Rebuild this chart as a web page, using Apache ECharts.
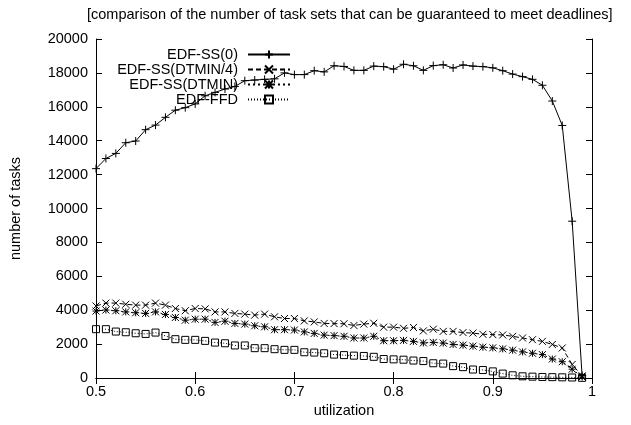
<!DOCTYPE html>
<html>
<head>
<meta charset="utf-8">
<title>Schedulable task sets vs utilization</title>
<script src="https://cdn.jsdelivr.net/npm/echarts@6/dist/echarts.min.js"></script>
<style>
  html, body { margin: 0; padding: 0; background: #fff; }
  #chart { width: 631px; height: 425px; }
</style>
</head>
<body>
<div id="chart"></div>
<script>
// Utilization levels sampled on the x axis
const utilization = [
  0.50, 0.51, 0.52, 0.53, 0.54, 0.55, 0.56, 0.57, 0.58, 0.59,
  0.60, 0.61, 0.62, 0.63, 0.64, 0.65, 0.66, 0.67, 0.68, 0.69,
  0.70, 0.71, 0.72, 0.73, 0.74, 0.75, 0.76, 0.77, 0.78, 0.79,
  0.80, 0.81, 0.82, 0.83, 0.84, 0.85, 0.86, 0.87, 0.88, 0.89,
  0.90, 0.91, 0.92, 0.93, 0.94, 0.95, 0.96, 0.97, 0.98, 0.99
];

// Number of task sets guaranteed to meet deadlines, per scheduler
const edfSS0 = [
  12350, 12950, 13250, 13880, 13980, 14650, 14920, 15380, 15800, 15950,
  16170, 16650, 16850, 17050, 17200, 17540, 17580, 17620, 17650, 18000,
  17900, 17900, 18130, 18060, 18420, 18380, 18150, 18150, 18400, 18370,
  18220, 18510, 18420, 18150, 18430, 18480, 18290, 18470, 18400, 18370,
  18300, 18130, 17930, 17780, 17620, 17270, 16340, 14900, 9250, 150
];
const edfSSDtmin4 = [
  4250, 4420, 4420, 4350, 4300, 4300, 4420, 4300, 4100, 3970,
  4100, 4080, 3900, 3900, 3810, 3770, 3710, 3770, 3610, 3510,
  3510, 3370, 3310, 3220, 3210, 3200, 3100, 3180, 3230, 3000,
  3000, 2930, 2980, 2780, 2880, 2750, 2750, 2680, 2650, 2580,
  2560, 2540, 2460, 2360, 2260, 2160, 1980, 1770, 800, 120
];
const edfSSDtmin = [
  3950, 4010, 3970, 3900, 3850, 3810, 3900, 3750, 3570, 3410,
  3470, 3470, 3280, 3350, 3220, 3180, 3080, 3020, 2850, 2850,
  2830, 2720, 2630, 2530, 2500, 2460, 2360, 2360, 2460, 2200,
  2200, 2220, 2160, 2070, 2100, 2060, 1980, 1940, 1880, 1820,
  1780, 1720, 1640, 1540, 1460, 1380, 1120, 960, 520, 60
];
const edfFFD = [
  2880, 2880, 2740, 2700, 2640, 2600, 2680, 2480, 2290, 2250,
  2250, 2190, 2090, 2050, 1920, 1920, 1760, 1760, 1700, 1660,
  1660, 1520, 1500, 1460, 1380, 1350, 1320, 1300, 1250, 1120,
  1100, 1080, 1030, 1000, 870, 850, 700, 640, 500, 470,
  390, 260, 160, 100, 80, 60, 50, 40, 30, 10
];

const seriesNames = ['EDF-SS(0)', 'EDF-SS(DTMIN/4)', 'EDF-SS(DTMIN)', 'EDF-FFD'];
const xTicks = { min: 0.5, max: 1, interval: 0.1 };
const yTicks = { min: 0, max: 20000, interval: 2000 };

const FONT = '"Liberation Sans", Arial, Helvetica, sans-serif';
const FS = 14.5;

// Stroke-only point glyphs
const SYM_PLUS = 'path://M0,5L10,5M5,0L5,10';
const SYM_CROSS = 'path://M0,0L10,10M10,0L0,10';
const SYM_STAR = 'path://M0,0L10,10M10,0L0,10M5,0L5,10M0,5L10,5';

const pairs = vals => utilization.map((u, i) => [u, vals[i]]);

function lineSeries(name, vals, symbol, size, dash) {
  return {
    name: name,
    type: 'line',
    data: pairs(vals),
    symbol: symbol,
    symbolSize: size,
    showAllSymbol: true,
    animation: false,
    silent: true,
    lineStyle: { color: '#000', width: 1, type: dash },
    itemStyle: { color: 'rgba(0,0,0,0)', borderColor: '#000', borderWidth: 1 },
    emphasis: { disabled: true }
  };
}

const legendRows = [52, 67, 82, 97];
const legends = seriesNames.map((n, i) => ({
  data: [n],
  orient: 'vertical',
  align: 'right',
  right: 340,
  top: legendRows[i] - 5,
  itemWidth: 42,
  itemHeight: 10,
  padding: 0,
  selectedMode: false,
  textStyle: { fontFamily: FONT, fontSize: FS, color: '#000', padding: [0, 5, 0, 0] }
}));

const axisCommon = {
  type: 'value',
  axisLine: { show: true, lineStyle: { color: '#000', width: 1 } },
  axisTick: { show: true, inside: true, length: 6, lineStyle: { color: '#000', width: 1 } },
  splitLine: { show: false }
};

const chart = echarts.init(document.getElementById('chart'), null, { renderer: 'canvas' });
chart.setOption({
  backgroundColor: '#fff',
  animation: false,
  title: {
    text: '[comparison of the number of task sets that can be guaranteed to meet deadlines]',
    left: 87,
    top: 7,
    padding: 0,
    textStyle: { fontFamily: FONT, fontSize: FS, fontWeight: 'normal', color: '#000' }
  },
  legend: legends,
  grid: { left: 96, right: 39, top: 39, bottom: 47, containLabel: false },
  xAxis: [
    Object.assign({}, axisCommon, xTicks, {
      position: 'bottom',
      name: 'utilization',
      nameLocation: 'middle',
      nameGap: 25,
      nameTextStyle: { fontFamily: FONT, fontSize: FS, color: '#000' },
      axisLabel: { margin: 6, fontFamily: FONT, fontSize: FS, color: '#000',
                   formatter: v => String(Math.round(v * 10) / 10) }
    }),
    Object.assign({}, axisCommon, xTicks, {
      position: 'top',
      axisLabel: { show: false }
    })
  ],
  yAxis: [
    Object.assign({}, axisCommon, yTicks, {
      position: 'left',
      name: 'number of tasks',
      nameLocation: 'middle',
      nameGap: 73,
      nameTextStyle: { fontFamily: FONT, fontSize: FS, color: '#000' },
      axisLabel: { margin: 8, fontFamily: FONT, fontSize: FS, color: '#000',
                   formatter: v => String(v) }
    }),
    Object.assign({}, axisCommon, yTicks, {
      position: 'right',
      axisLabel: { show: false }
    })
  ],
  series: [
    lineSeries(seriesNames[0], edfSS0, SYM_PLUS, 8, 'solid'),
    lineSeries(seriesNames[1], edfSSDtmin4, SYM_CROSS, 7, [5, 3]),
    lineSeries(seriesNames[2], edfSSDtmin, SYM_STAR, 7, [2, 3]),
    lineSeries(seriesNames[3], edfFFD, 'rect', 7, [1, 2])
  ]
});
</script>
</body>
</html>
